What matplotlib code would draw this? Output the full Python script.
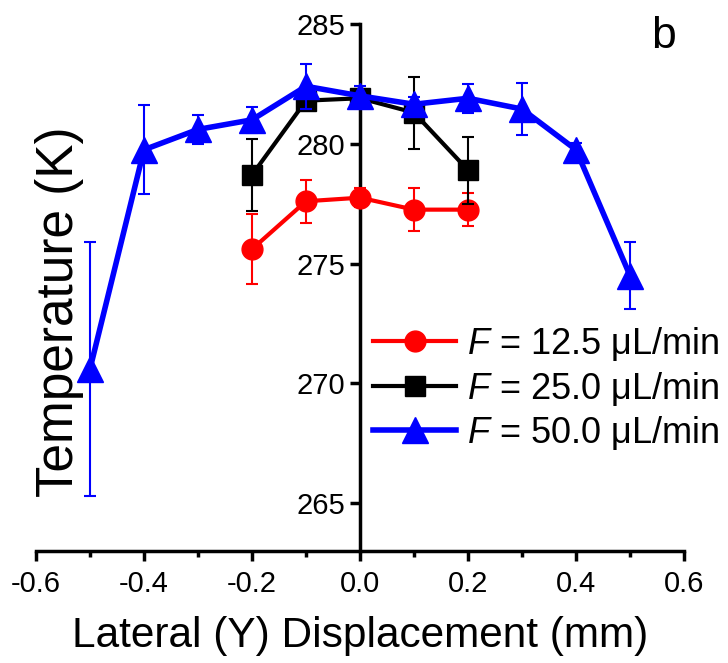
import matplotlib
matplotlib.use("Agg")
import matplotlib.pyplot as plt
from matplotlib.ticker import MultipleLocator

plt.rcParams['font.family'] = ['Liberation Sans', 'DejaVu Sans']
plt.rcParams['mathtext.fontset'] = 'custom'
plt.rcParams['mathtext.it'] = 'Liberation Sans:italic'
plt.rcParams['mathtext.rm'] = 'Liberation Sans'

# Data
x_red = [-0.2, -0.1, 0.0, 0.1, 0.2]
y_red = [275.6, 277.6, 277.75, 277.25, 277.25]
e_red = [1.45, 0.9, 0.4, 0.9, 0.7]

x_black = [-0.2, -0.1, 0.0, 0.1, 0.2]
y_black = [278.7, 281.8, 281.9, 281.3, 278.9]
e_black = [1.5, 0.4, 0.4, 1.5, 1.4]

x_blue = [-0.5, -0.4, -0.3, -0.2, -0.1, 0.0, 0.1, 0.2, 0.3, 0.4, 0.5]
y_blue = [270.6, 279.75, 280.6, 281.0, 282.4, 282.0, 281.65, 281.9, 281.45, 279.75, 274.5]
e_blue = [5.3, 1.85, 0.6, 0.55, 0.95, 0.4, 0.3, 0.6, 1.1, 0.3, 1.4]

labels = [r'$\it{F}$ = 12.5 μL/min', r'$\it{F}$ = 25.0 μL/min', r'$\it{F}$ = 50.0 μL/min']

fig = plt.figure(figsize=(7.28, 6.63), dpi=100)
ax = fig.add_axes([36/728, (663-551)/663, (684-36)/728, (551-24)/663])

c1 = ax.errorbar(x_red, y_red, yerr=e_red, color='#ff0000', marker='o', markersize=15,
                 lw=3, elinewidth=1.5, capsize=4, capthick=1.5, zorder=3)
c2 = ax.errorbar(x_black, y_black, yerr=e_black, color='black', marker='s', markersize=14,
                 lw=3, elinewidth=1.5, capsize=4, capthick=1.5, zorder=4)
c3 = ax.errorbar(x_blue, y_blue, yerr=e_blue, color='#0000ff', marker='^', markersize=19,
                 lw=4, elinewidth=1.5, capsize=4, capthick=1.5, zorder=5)

ax.set_xlim(-0.6, 0.6)
ax.set_ylim(263, 285)
ax.spines['top'].set_visible(False)
ax.spines['right'].set_visible(False)
ax.spines['left'].set_position(('data', 0))
ax.spines['left'].set_linewidth(2.5)
ax.spines['bottom'].set_linewidth(2.5)
ax.set_xticks([-0.6, -0.4, -0.2, 0.0, 0.2, 0.4, 0.6])
ax.set_xticklabels(['-0.6', '-0.4', '-0.2', '0.0', '0.2', '0.4', '0.6'])
ax.xaxis.set_minor_locator(MultipleLocator(0.1))
ax.set_yticks([265, 270, 275, 280, 285])
ax.tick_params(axis='both', which='major', direction='out', length=7, width=2.5, labelsize=21)
ax.tick_params(axis='x', which='minor', direction='out', length=4, width=2.5)
ax.tick_params(axis='x', pad=7)

ax.set_xlabel('Lateral (Y) Displacement (mm)', fontsize=30.5, labelpad=13)
fig.text(73/728, 1 - 312/663, 'Temperature (K)', rotation=90, fontsize=37,
         ha='center', va='baseline', rotation_mode='anchor')
fig.text(663/728, 1 - 36/663, 'b', fontsize=32, ha='center', va='center')

handles = [c1[0], c2[0], c3[0]]
leg = ax.legend(handles, labels, loc='upper left', bbox_to_anchor=(355/728, 1 - 307/663),
                bbox_transform=fig.transFigure, frameon=False, fontsize=26,
                handlelength=2.3, handletextpad=0.3, labelspacing=0.18, borderpad=0)

fig.savefig('out.png', dpi=100)
